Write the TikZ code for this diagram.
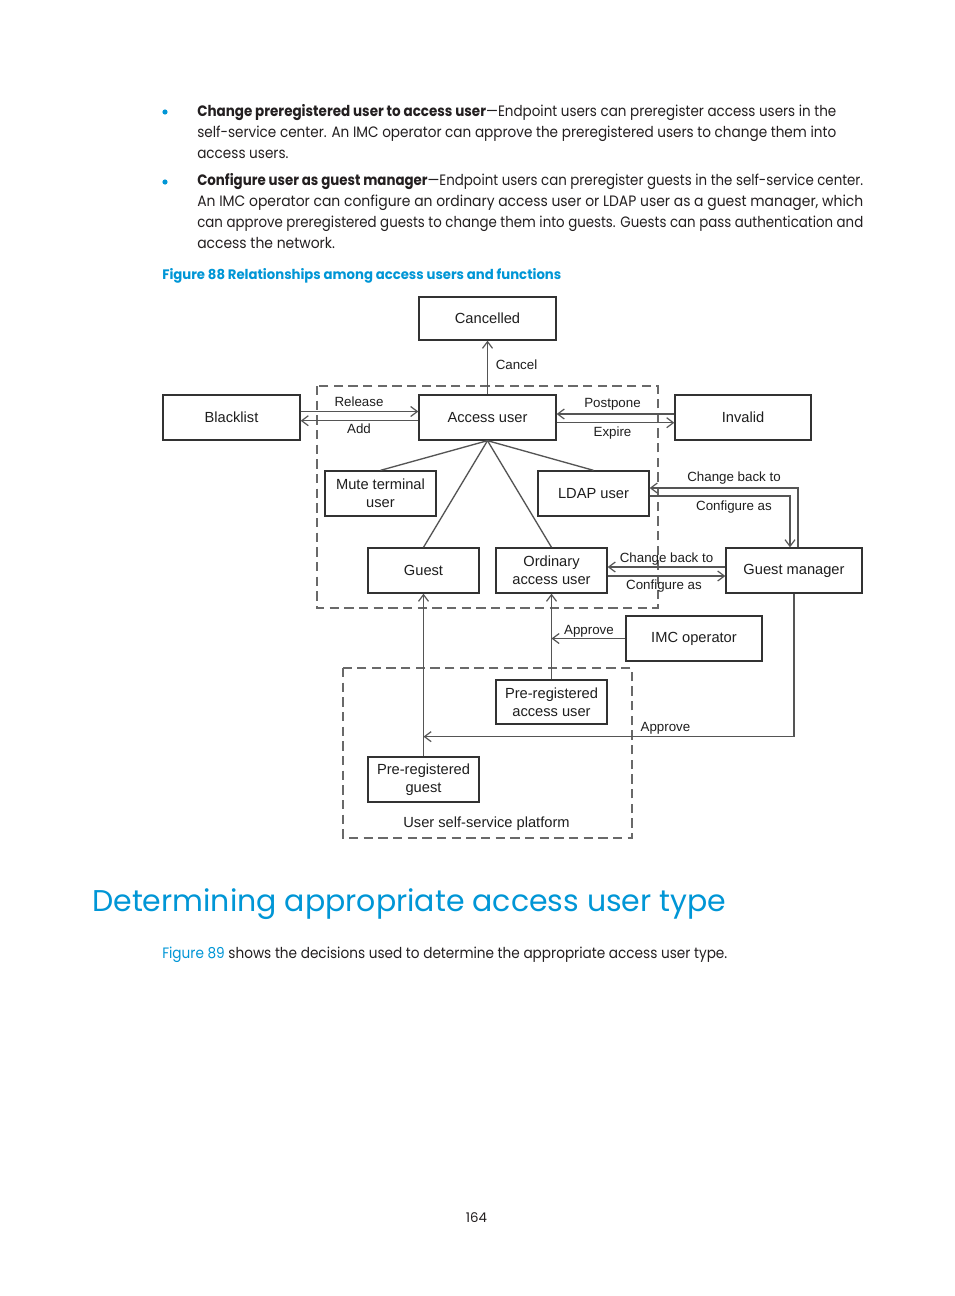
\documentclass[tikz,border=0pt]{standalone}
\usepackage{fontspec}
\usepackage{graphicx}
\usetikzlibrary{arrows.meta,calc}
\newfontfamily\arialf{Liberation Sans}
\newfontfamily\popf{Poppins}
\newcommand\bodyf{\popf\fontsize{11.3pt}{13pt}\selectfont}
\newcommand\capf{\popf\fontsize{10.3pt}{12pt}\selectfont\bfseries}
\newcommand\headf{\popf\fontsize{22.5pt}{26pt}\selectfont}
\newcommand\pagef{\popf\fontsize{10pt}{12pt}\selectfont}
\newcommand\boxf{\arialf\fontsize{11pt}{13.5pt}\selectfont}
\newcommand\lblf{\arialf\fontsize{10pt}{12pt}\selectfont}
\definecolor{hpblue}{RGB}{0,150,214}
\definecolor{txt}{RGB}{35,31,32}
\definecolor{boxc}{RGB}{50,50,50}
\definecolor{linec}{RGB}{85,85,85}
\definecolor{dashc}{RGB}{105,105,105}
\definecolor{boxt}{RGB}{30,30,30}
\newsavebox\measbox
\newlength\measlen
\sbox\measbox{\bodyf self-service center. An IMC operator can approve the preregistered users to change them into}
\setlength\measlen{\wd\measbox}
\pgfmathsetmacro\scA{479.25/\measlen}
\sbox\measbox{\bodyf An IMC operator can configure an ordinary access user or LDAP user as a guest manager, which}
\setlength\measlen{\wd\measbox}
\pgfmathsetmacro\scB{499.5/\measlen}
\tikzset{
  bx/.style={draw=boxc, fill=white, line width=1pt, inner sep=0pt, align=center, font=\boxf, text=boxt},
  bwide/.style={bx, minimum width=102.75pt, minimum height=33.75pt},
  bnarrow/.style={bx, minimum width=83.25pt, minimum height=33.75pt},
  arr/.style={draw=linec, line width=1pt, -{Straight Barb[length=5pt,width=7.5pt,line width=0.9pt]}},
  ln/.style={draw=linec, line width=1pt},
  lbl/.style={font=\lblf, text=boxt, inner sep=0pt, text height=7.2pt, text depth=0pt},
  grp/.style={draw=dashc, line width=1pt, dash pattern=on 7pt off 4pt},
  bodyline/.style={anchor=base west, inner sep=0pt, text=txt, font=\bodyf},
  bul/.style={circle, fill=hpblue, inner sep=0pt, minimum size=3.9pt}
}
\begin{document}
\begin{tikzpicture}[x=0.75pt,y=-0.75pt]
\useasboundingbox (0,0) rectangle (954,1296);
\fill[white] (0,0) rectangle (954,1296);

% ---------- body text ----------
\node[bul] (b1) at (165,112) {};
\node[bul] (b2) at (165,182) {};
\node[bodyline] (l1) at (197,116) {\resizebox{479.25pt}{\height}{\textbf{Change preregistered user to access user}\textemdash Endpoint users can preregister access users in the}};
\node[bodyline] (l2) at (197,137) {\resizebox{479.25pt}{\height}{self-service center. An IMC operator can approve the preregistered users to change them into}};
\node[bodyline] (l3) at (197,158) {\scalebox{\scA}[1]{access users.}};
\node[bodyline] (l4) at (197,185) {\resizebox{499.5pt}{\height}{\textbf{Configure user as guest manager}\textemdash Endpoint users can preregister guests in the self-service center.}};
\node[bodyline] (l5) at (197,206) {\resizebox{499.5pt}{\height}{An IMC operator can configure an ordinary access user or LDAP user as a guest manager, which}};
\node[bodyline] (l6) at (197,227) {\resizebox{499.5pt}{\height}{can approve preregistered guests to change them into guests. Guests can pass authentication and}};
\node[bodyline] (l7) at (197,248) {\scalebox{\scB}[1]{access the network.}};
\node[anchor=base west, inner sep=0pt, text=hpblue, font=\capf] (cap) at (162,279) {\resizebox{299.25pt}{\height}{Figure 88 Relationships among access users and functions}};

% ---------- groups ----------
\draw[grp] (317,386) rectangle (658,608);
\draw[grp] (343,668) rectangle (632,838);

% ---------- boxes ----------
\node[bwide, minimum height=32.25pt] (can) at (487.5,318.5) {Cancelled};
\node[bwide] (blk) at (231.5,417.5) {Blacklist};
\node[bwide] (acc) at (487.5,417.5) {Access user};
\node[bwide, minimum width=102pt] (inv) at (743,417.5) {Invalid};
\node[bnarrow] (mute) at (380.5,493.5) {Mute terminal\\user};
\node[bnarrow] (ldap) at (593.5,493.5) {LDAP user};
\node[bnarrow] (guest) at (423.5,570.5) {Guest};
\node[bnarrow] (ord) at (551.5,570.5) {Ordinary\\access user};
\node[bwide, minimum width=102pt] (gm) at (794,570.5) {Guest manager};
\node[bwide, minimum width=102pt] (imc) at (694,638.5) {IMC operator};
\node[bnarrow, minimum height=33pt] (pra) at (551.5,702) {Pre-registered\\access user};
\node[bnarrow] (prg) at (423.5,779.5) {Pre-registered\\guest};

% ---------- connectors ----------
\draw[arr] (acc.north) -- (can.south);
\draw[arr] ($(blk.east)+(0,-6)$) -- ($(acc.west)+(0,-6)$);
\draw[arr] ($(acc.west)+(0,3.2)$) -- ($(blk.east)+(0,3.2)$);
\draw[arr] ($(inv.west)+(0,-3.5)$) -- ($(acc.east)+(0,-3.5)$);
\draw[arr] ($(acc.east)+(0,5.2)$) -- ($(inv.west)+(0,5.2)$);
\draw[ln] (acc.south) -- (mute.north);
\draw[ln] (acc.south) -- (guest.north);
\draw[ln] (acc.south) -- (ord.north);
\draw[ln] (acc.south) -- (ldap.north);
\draw[arr] ($(gm.north)+(4,0)$) |- ($(ldap.east)+(0,-5.5)$);
\draw[arr] ($(ldap.east)+(0,2.5)$) -| ($(gm.north)+(-4,0)$);
\draw[arr] ($(gm.west)+(0,-3.5)$) -- ($(ord.east)+(0,-3.5)$);
\draw[arr] ($(ord.east)+(0,5.5)$) -- ($(gm.west)+(0,5.5)$);
\draw[arr] (pra.north) -- (ord.south);
\draw[arr] (imc.west) -- (imc.west -| pra.north);
\draw[arr] (prg.north) -- (guest.south);
\coordinate (gmA) at ($(gm.south)+(0,143)$);
\draw[arr] (gm.south) -- (gmA) -- (gmA -| prg.north);

% ---------- labels ----------
\node[lbl] (tCancel) at (516.5,364.5) {Cancel};
\node[lbl] (tRelease) at (359,402) {Release};
\node[lbl] (tAdd) at (359,428.5) {Add};
\node[lbl] (tPost) at (612.5,403) {Postpone};
\node[lbl] (tExp) at (612.5,432) {Expire};
\node[lbl] (tCb1) at (734,477) {Change back to};
\node[lbl] (tCf1) at (734,506) {Configure as};
\node[lbl] (tCb2) at (666.5,558) {Change back to};
\node[lbl] (tCf2) at (664,585) {Configure as};
\node[lbl] (tAp1) at (589,630) {Approve};
\node[lbl] (tAp2) at (665.5,727) {Approve};
\node[lbl, font=\boxf, text height=7.9pt] (tUsp) at (486.5,822) {User self-service platform};

% ---------- heading and footer ----------
\node[anchor=base west, inner sep=0pt, text=hpblue, font=\headf] (head) at (92,911) {\resizebox{475.5pt}{\height}{Determining appropriate access user type}};
\node[bodyline] (f89) at (162,958) {\resizebox{423.75pt}{\height}{\textcolor{hpblue}{Figure 89} shows the decisions used to determine the appropriate access user type.}};
\node[anchor=base, inner sep=0pt, text=txt, font=\pagef] (pg) at (476.5,1222) {164};
\end{tikzpicture}
\end{document}
